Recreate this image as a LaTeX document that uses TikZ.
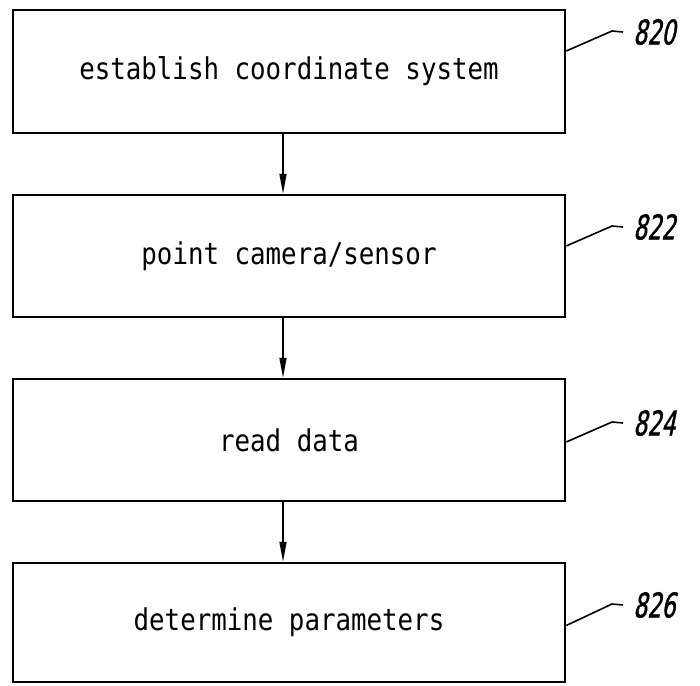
\documentclass[tikz,border=0pt]{standalone}
\usepackage{fontspec}
\usetikzlibrary{arrows.meta}
\newfontfamily\boxfont[FakeStretch=0.86]{DejaVu Sans Mono}
\newfontfamily\tagfont[FakeSlant=0.2,FakeStretch=0.65,FakeBold=1.2]{DejaVu Sans}
\tikzset{
  stepbox/.style={draw, line width=2.5pt, minimum width=552pt, inner sep=0pt,
    font=\boxfont\fontsize{30}{36}\selectfont},
  flow/.style={line width=1.6pt, -{Triangle[length=20pt,width=7pt]}},
  leader/.style={line width=1.6pt},
  tag/.style={anchor=west, inner sep=0pt, font=\tagfont\fontsize{34}{40}\selectfont}
}
\begin{document}
\begin{tikzpicture}[x=1pt,y=-1pt]
  \useasboundingbox (0,0) rectangle (700,685);
  % Nodes
  \foreach \n/\yc/\h/\yt/\txt in {820/71.5/123/32/{establish coordinate system},
      822/256/122/227/{point camera/sensor},
      824/440/122/423/{read data},
      826/622.5/119/605/{determine parameters}}{
    \node[stepbox, minimum height=\h pt] (s\n) at (289,\yc) {\txt};
    \node[tag] (t\n) at (633,\yt) {\n};
    \coordinate (k\n) at (612,\yt-1);
  }
  % Edges
  \draw[flow] ([xshift=-6pt]s820.south) -- ([xshift=-6pt]s822.north);
  \draw[flow] ([xshift=-6pt]s822.south) -- ([xshift=-6pt]s824.north);
  \draw[flow] ([xshift=-6pt]s824.south) -- ([xshift=-6pt]s826.north);
  % Leaders
  \draw[leader] ([yshift=20.5pt]s820.east) -- (k820) -- ([xshift=-10pt]t820.west);
  \draw[leader] ([yshift=10pt]s822.east) -- (k822) -- ([xshift=-10pt]t822.west);
  \draw[leader] ([yshift=-2pt]s824.east) -- (k824) -- ([xshift=-10pt]t824.west);
  \draw[leader] ([yshift=-3pt]s826.east) -- (k826) -- ([xshift=-10pt]t826.west);
\end{tikzpicture}
\end{document}
